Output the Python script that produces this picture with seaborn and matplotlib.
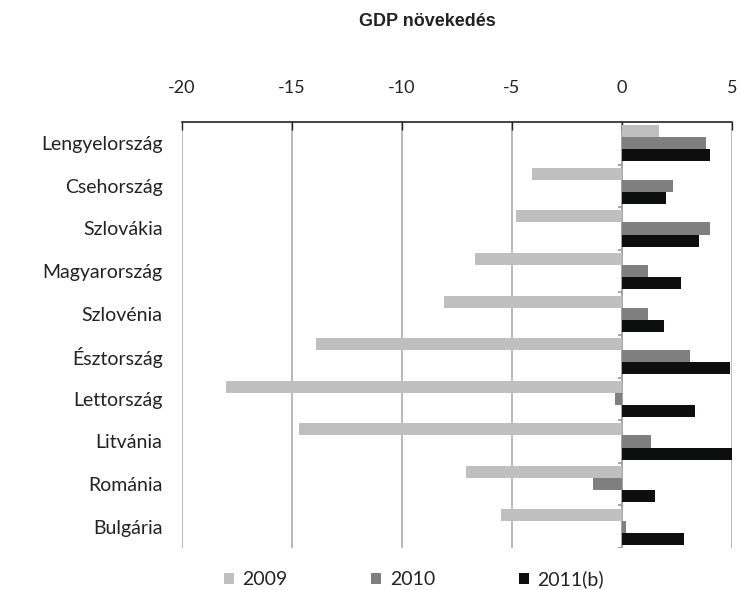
import matplotlib
matplotlib.use("Agg")
import matplotlib.pyplot as plt
from matplotlib import font_manager
import seaborn as sns
import pandas as pd
import numpy as np
from matplotlib.patches import Patch

countries = ["Lengyelország", "Csehország", "Szlovákia", "Magyarország", "Szlovénia",
             "Észtország", "Lettország", "Litvánia", "Románia", "Bulgária"]
g2009 = [1.7, -4.1, -4.8, -6.7, -8.1, -13.9, -18.0, -14.7, -7.1, -5.5]
g2010 = [3.8, 2.3, 4.0, 1.2, 1.2, 3.1, -0.3, 1.3, -1.3, 0.2]
g2011 = [4.0, 2.0, 3.5, 2.7, 1.9, 4.9, 3.3, 5.0, 1.5, 2.8]
series = ["2009", "2010", "2011(b)"]
colors = ["#bfbfbf", "#7f7f7f", "#0d0f0e"]
x_ticks = [-20, -15, -10, -5, 0, 5]

df = pd.DataFrame({
    "Ország": countries * 3,
    "Év": np.repeat(series, len(countries)),
    "GDP": g2009 + g2010 + g2011,
})


def has_font(name):
    try:
        font_manager.findfont(font_manager.FontProperties(family=name, weight="bold"),
                              fallback_to_default=False)
        return True
    except Exception:
        return False


# narrow bold face for the heading when one is installed
if has_font("Liberation Sans Narrow"):
    title_family, title_size = "Liberation Sans Narrow", 16
else:
    title_family, title_size = "Liberation Sans", 13

sns.set_theme(style="white")
plt.rcParams["font.family"] = ["Lato", "DejaVu Sans"]

fig = plt.figure(figsize=(7.38, 5.90), dpi=100)
ax = fig.add_axes([182 / 738, 1 - 548 / 590, 550 / 738, 426 / 590])

sns.barplot(data=df, x="GDP", y="Ország", hue="Év", order=countries,
            hue_order=series, palette=colors, orient="h", width=0.85,
            saturation=1, legend=False, ax=ax, linewidth=0)

ax.set_xlim(-20, 5)
ax.set_ylim(len(countries) - 0.5, -0.5)
ax.set_xticks(x_ticks)
ax.set_xticklabels([str(t) for t in x_ticks])
ax.xaxis.tick_top()
ax.tick_params(axis="x", which="major", direction="in", length=6, width=1,
               color="#222222", labelsize=13, pad=19, labelcolor="#222222")
ax.tick_params(axis="y", length=0, labelsize=14, pad=14, labelcolor="#222222")
ax.set_xlabel("")
ax.set_ylabel("")

for s in ["left", "right", "bottom"]:
    ax.spines[s].set_visible(False)
ax.spines["top"].set_color("#222222")
ax.spines["top"].set_linewidth(1.2)

ax.grid(axis="x", color="#a6a6a6", linewidth=1.1)
ax.set_axisbelow(True)

# category axis crossing at zero, with tick marks between groups
ax.axvline(0, color="#8c8c8c", linewidth=1.1, zorder=0.5)
bounds = np.arange(len(countries)) + 0.5
ax.hlines(bounds, -0.2, 0, color="#8c8c8c", linewidth=1.1, zorder=0.5)

fig.text(427 / 738, 1 - 22 / 590, "GDP növekedés", ha="center", va="center",
         fontsize=title_size, fontweight="bold",
         family=[title_family, "DejaVu Sans"], color="#222222")

handles = [Patch(facecolor=c, edgecolor="none") for c in colors]
fig.legend(handles, series, loc="center", bbox_to_anchor=(414 / 738, 1 - 579 / 590),
           ncol=3, frameon=False, fontsize=14, handlelength=0.5, handleheight=0.5,
           handletextpad=0.45, columnspacing=4.3, labelcolor="#222222")

fig.savefig("out.png", dpi=100)
